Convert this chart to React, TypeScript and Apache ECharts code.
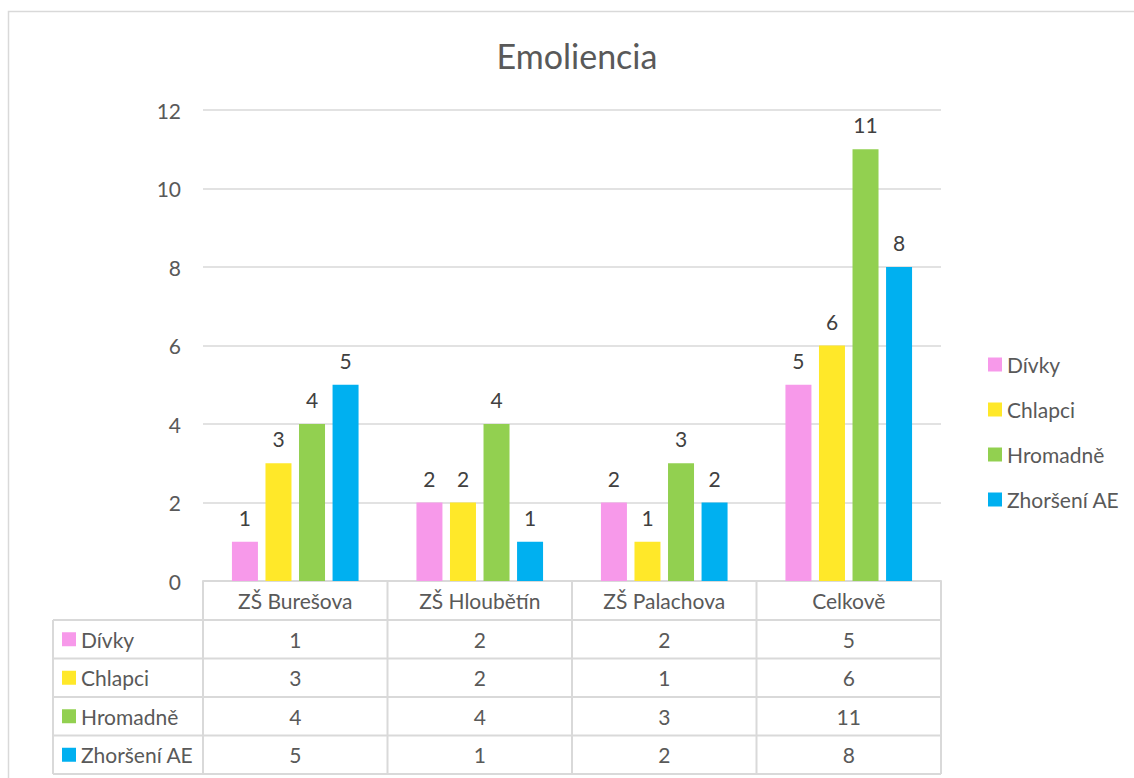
import React, { useEffect, useRef } from "react";
import * as echarts from "echarts";

const title = "Emoliencia";
const categories = ["ZŠ Burešova", "ZŠ Hloubětín", "ZŠ Palachova", "Celkově"];
const seriesNames = ["Dívky", "Chlapci", "Hromadně", "Zhoršení AE"];
const divky = [1, 2, 2, 5];
const chlapci = [3, 2, 1, 6];
const hromadne = [4, 4, 3, 11];
const zhorseni = [5, 1, 2, 8];
const seriesValues = [divky, chlapci, hromadne, zhorseni];
const colors = ["#F799EA", "#FFE829", "#92D050", "#00B0F0"];

const FONT = "Lato, 'Open Sans', sans-serif";
const TXT = "#595959";
const LINE = "#D9D9D9";
const FS = 21;

// layout
const W = 1134;
const H = 778;
const gridLeft = 203;
const gridRight = 941;
const gridTop = 110;
const gridBottom = 581;
const rowH = 38.5;
const tableLeft = 53;

export default function App() {
  const ref = useRef<HTMLDivElement>(null);
  useEffect(() => {
    if (!ref.current) return;
    const chart = echarts.init(ref.current, null, { renderer: "svg" });
    const colW = (gridRight - gridLeft) / categories.length;
    const graphics: any[] = [];
    // outer border
    graphics.push({
      type: "rect",
      shape: { x: 8.5, y: 11.5, width: 1200, height: 900 },
      style: { fill: "none", stroke: LINE, lineWidth: 1.5 },
      silent: true,
    });
    // title
    graphics.push({
      type: "text",
      x: 577,
      y: 55,
      style: {
        text: title,
        fill: TXT,
        font: `34px ${FONT}`,
        textAlign: "center",
        textVerticalAlign: "middle",
      },
      silent: true,
    });
    const hdrBottom = gridBottom + rowH + 0.5;
    const tableBottom = hdrBottom + rowH * seriesNames.length;
    // header row verticals
    for (let i = 0; i <= categories.length; i++) {
      const x = gridLeft + colW * i;
      graphics.push({
        type: "line",
        shape: { x1: x, y1: gridBottom, x2: x, y2: tableBottom },
        style: { stroke: LINE, lineWidth: 2 },
        silent: true,
      });
    }
    // left vertical of table
    graphics.push({
      type: "line",
      shape: { x1: tableLeft, y1: hdrBottom, x2: tableLeft, y2: tableBottom },
      style: { stroke: LINE, lineWidth: 2 },
      silent: true,
    });
    // horizontal lines
    for (let r = 0; r <= seriesNames.length; r++) {
      const y = hdrBottom + rowH * r;
      graphics.push({
        type: "line",
        shape: { x1: tableLeft, y1: y, x2: gridRight, y2: y },
        style: { stroke: LINE, lineWidth: 2 },
        silent: true,
      });
    }
    // row content
    seriesNames.forEach((name, r) => {
      const cy = hdrBottom + rowH * r + rowH / 2;
      graphics.push({
        type: "rect",
        shape: { x: 62, y: cy - 7, width: 14, height: 14 },
        style: { fill: colors[r] },
        silent: true,
      });
      graphics.push({
        type: "text",
        x: 81,
        y: cy,
        style: {
          text: name,
          fill: TXT,
          font: `${FS}px ${FONT}`,
          textVerticalAlign: "middle",
          textAlign: "left",
        },
        silent: true,
      });
      seriesValues[r].forEach((v, c) => {
        graphics.push({
          type: "text",
          x: gridLeft + colW * c + colW / 2,
          y: cy,
          style: {
            text: String(v),
            fill: TXT,
            font: `${FS}px ${FONT}`,
            textVerticalAlign: "middle",
            textAlign: "center",
          },
          silent: true,
        });
      });
    });

    chart.setOption({
      animation: false,
      backgroundColor: "#FFFFFF",
      legend: {
        orient: "vertical",
        left: 983,
        top: 349,
        itemWidth: 14,
        itemHeight: 14,
        itemGap: 24,
        icon: "rect",
        data: seriesNames,
        textStyle: { color: TXT, fontSize: FS, fontFamily: FONT },
      },
      grid: {
        left: gridLeft,
        top: gridTop,
        width: gridRight - gridLeft,
        height: gridBottom - gridTop,
        containLabel: false,
      },
      xAxis: {
        type: "category",
        data: categories,
        axisLine: { show: true, lineStyle: { color: LINE, width: 2 } },
        axisTick: { show: false },
        axisLabel: { color: TXT, fontSize: FS, fontFamily: FONT, margin: 9 },
      },
      yAxis: {
        type: "value",
        min: 0,
        max: 12,
        interval: 2,
        axisLine: { show: false },
        axisTick: { show: false },
        axisLabel: { color: TXT, fontSize: FS, fontFamily: FONT, margin: 22 },
        splitLine: { lineStyle: { color: LINE, width: 1.5 } },
      },
      graphic: graphics,
      series: seriesNames.map((name, i) => ({
        name,
        type: "bar",
        data: seriesValues[i],
        itemStyle: { color: colors[i] },
        barWidth: 26,
        barGap: "29%",
        label: {
          show: true,
          position: "top",
          distance: 14,
          color: "#404040",
          fontSize: FS,
          fontFamily: FONT,
        },
      })),
    });
    return () => chart.dispose();
  }, []);
  return (
    <div
      ref={ref}
      style={{ position: "fixed", left: 0, top: 0, width: W, height: H }}
    />
  );
}
